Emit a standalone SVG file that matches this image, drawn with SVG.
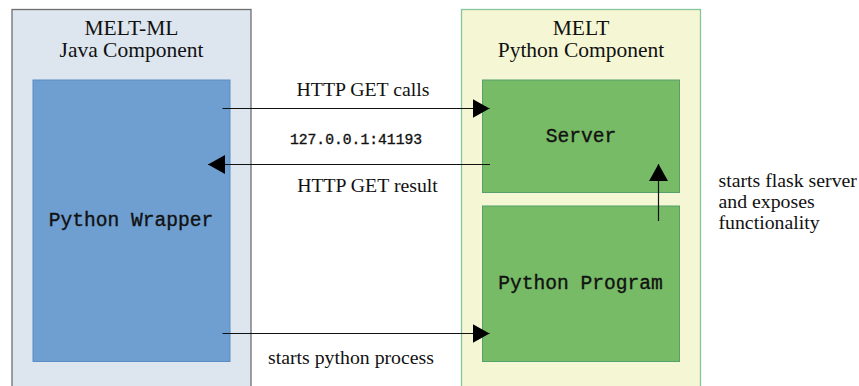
<svg xmlns="http://www.w3.org/2000/svg" width="859" height="386" viewBox="0 0 859 386">
<style>
.serif{font-family:"Liberation Serif","Times New Roman",serif;fill:#111}
.mono{font-family:"Liberation Mono","Courier New",monospace;fill:#111;stroke:#111;stroke-width:0.35}
.head{font-size:21.5px}
.lbl{font-size:19.8px}
.box{font-size:19.6px}
.conn{stroke:#111;stroke-width:1.2;fill:none}
</style>
<defs>
<marker id="ah" markerWidth="17" markerHeight="19" refX="17" refY="9.5" orient="auto" markerUnits="userSpaceOnUse">
<path d="M0,0 L17,9.5 L0,19 Z" fill="#000"/>
</marker>
</defs>
<rect width="859" height="386" fill="#fff"/>
<g id="java-component">
<rect x="12" y="9.5" width="239" height="390" fill="#dde5ef" stroke="#6e6e6e" stroke-width="1.3"/>
<text class="serif head" x="131.5" y="35" text-anchor="middle">MELT-ML</text>
<text class="serif head" x="131.5" y="57" text-anchor="middle">Java Component</text>
</g>
<g id="python-wrapper">
<rect x="33" y="80" width="197" height="281.5" fill="#6f9fd1" stroke="#5b8cc6" stroke-width="1"/>
<text class="mono box" x="131" y="226" text-anchor="middle">Python Wrapper</text>
</g>
<g id="python-component">
<rect x="461.5" y="9.5" width="239" height="390" fill="#f5f7d4" stroke="#86c59b" stroke-width="1.3"/>
<text class="serif head" x="581" y="35" text-anchor="middle">MELT</text>
<text class="serif head" x="581" y="57" text-anchor="middle">Python Component</text>
</g>
<g id="server">
<rect x="482.5" y="80" width="197" height="112.5" fill="#78bb67" stroke="#55a06c" stroke-width="1"/>
<text class="mono box" x="581" y="141.5" text-anchor="middle">Server</text>
</g>
<g id="python-program">
<rect x="482.5" y="206" width="197" height="155.5" fill="#78bb67" stroke="#55a06c" stroke-width="1"/>
<text class="mono box" x="580.5" y="289" text-anchor="middle">Python Program</text>
</g>
<g id="connectors">
<line class="conn" x1="222.5" y1="108.5" x2="489.5" y2="108.5" marker-end="url(#ah)"/>
<line class="conn" x1="490" y1="164.5" x2="208" y2="164.5" marker-end="url(#ah)"/>
<line class="conn" x1="222.5" y1="333.5" x2="489.5" y2="333.5" marker-end="url(#ah)"/>
<line class="conn" x1="658.5" y1="221" x2="658.5" y2="164" marker-end="url(#ah)"/>
</g>
<g id="labels">
<text class="serif lbl" x="363" y="96" text-anchor="middle">HTTP GET calls</text>
<text class="mono" style="font-size:14.7px" x="356" y="143.5" text-anchor="middle">127.0.0.1:41193</text>
<text class="serif lbl" x="367.5" y="191.5" text-anchor="middle">HTTP GET result</text>
<text class="serif lbl" x="351" y="363.5" text-anchor="middle">starts python process</text>
<text class="serif lbl" x="718.5" y="186.5">starts flask server</text>
<text class="serif lbl" x="718.5" y="207.5">and exposes</text>
<text class="serif lbl" x="718.5" y="228.5">functionality</text>
</g>
</svg>
